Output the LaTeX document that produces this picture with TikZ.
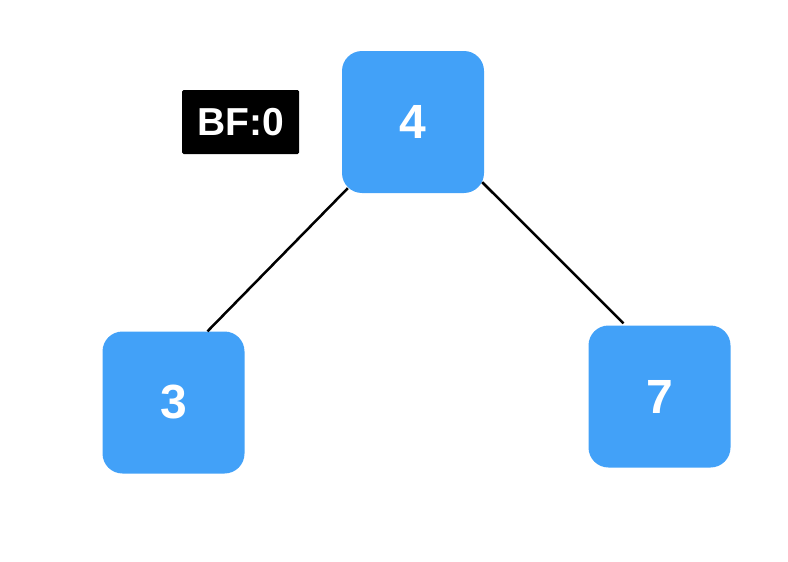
\documentclass[tikz,border=0pt]{standalone}
\usepackage{fontspec}
\setmainfont{Liberation Sans}
\usepackage{xcolor}
\definecolor{nodeblue}{HTML}{42A1F8}
\tikzset{
  treenode/.style={fill=nodeblue, rounded corners=20pt, minimum size=142pt, inner sep=0pt,
    text=white, font=\fontsize{48}{48}\selectfont\bfseries},
  bflabel/.style={fill=black, text=white, minimum width=117pt, minimum height=64pt, inner sep=0pt,
    rounded corners=1.5pt, font=\fontsize{39}{39}\selectfont\bfseries}
}
\begin{document}
\begin{tikzpicture}[x=1pt,y=-1pt]
\useasboundingbox (0,0) rectangle (788,562);

\node[treenode] (n4) at (413,122) {4};
\node[treenode] (n3) at (173.5,402.5) {3};
\node[treenode] (n7) at (659.5,396.5) {7};
\node[bflabel] (bf) at (240.5,122) {BF:0};

\draw[line width=2.5pt] ([shift={(6pt,5pt)}]n4.south west) -- ([xshift=34pt]n3.north);
\draw[line width=2.5pt] ([shift={(-2pt,11pt)}]n4.south east) -- ([shift={(-36pt,2pt)}]n7.north);

\end{tikzpicture}
\end{document}
